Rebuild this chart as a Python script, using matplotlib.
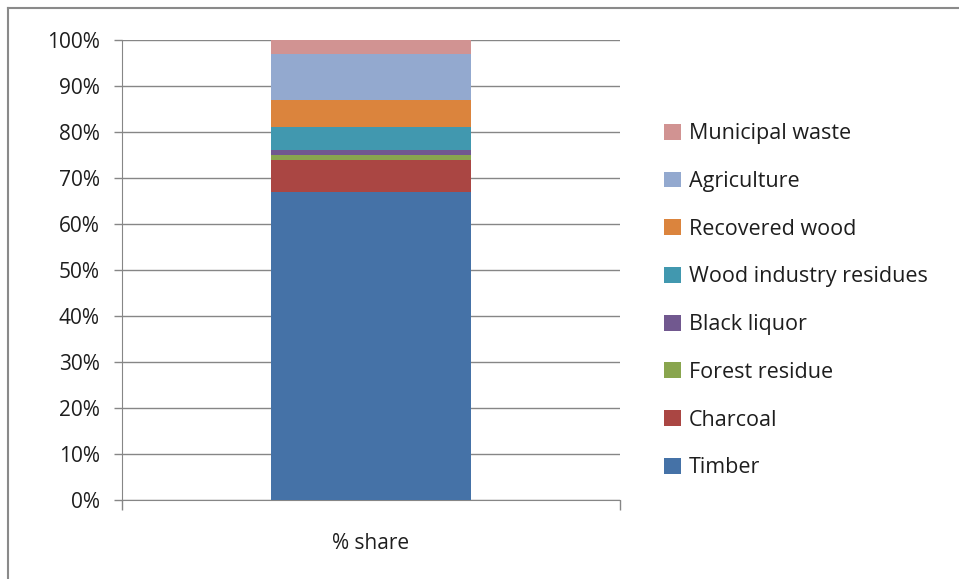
import matplotlib.pyplot as plt
from matplotlib.patches import Patch
from matplotlib.lines import Line2D

# biomass sources, % share (bottom of the stack first)
sources = ['Timber', 'Charcoal', 'Forest residue', 'Black liquor',
           'Wood industry residues', 'Recovered wood', 'Agriculture',
           'Municipal waste']
shares = [67, 7, 1, 1, 5, 6, 10, 3]
colors = ['#4572A7', '#AA4643', '#89A54E', '#71588F',
          '#4198AF', '#DB843D', '#93A9CF', '#D19392']
category = '% share'
yticks = [0, 10, 20, 30, 40, 50, 60, 70, 80, 90, 100]

plt.rcParams['font.family'] = ['Open Sans', 'DejaVu Sans']

fig = plt.figure(figsize=(9.59, 5.79), dpi=100)
ax = fig.add_axes([122 / 959, 79 / 579, 498 / 959, 460 / 579])

grey = '#868686'
txt = '#1e1e1e'

# stacked bar
bottom = 0
for name, val, col in zip(sources, shares, colors):
    ax.bar(0, val, width=0.4, bottom=bottom, color=col, label=name, zorder=3)
    bottom += val

ax.set_xlim(-0.5, 0.5)
ax.set_ylim(0, 100)
ax.set_yticks(yticks)
ax.set_yticklabels([f'{t}%' for t in yticks])
ax.yaxis.grid(True, color=grey, linewidth=1.0, zorder=0)

ax.set_xticks([0])
ax.set_xticklabels([category])
ax.set_xticks([-0.5, 0.5], minor=True)
ax.tick_params(axis='x', which='major', length=0, pad=24, labelsize=15,
               labelcolor=txt)
ax.tick_params(axis='x', which='minor', length=7, color=grey, width=1.0)
ax.tick_params(axis='y', length=6, color=grey, width=1.0, pad=10,
               labelsize=15, labelcolor=txt)

for side in ['top', 'right']:
    ax.spines[side].set_visible(False)
ax.spines['left'].set_color(grey)
ax.spines['bottom'].set_color(grey)

# legend, top entry is the top of the stack
handles = [Patch(facecolor=c, edgecolor='none') for c in colors][::-1]
fig.legend(handles, sources[::-1], loc='upper left',
           bbox_to_anchor=(645 / 959, 1 - 104 / 579), frameon=False,
           fontsize=15.5, handlelength=0.75, handleheight=0.75,
           handletextpad=0.4, labelspacing=1.24, labelcolor=txt)

# outer chart frame
fig.add_artist(Line2D([8 / 959, 8 / 959], [0, 1 - 8 / 579],
                      transform=fig.transFigure, color='#8a8a8a', lw=1.5))
fig.add_artist(Line2D([8 / 959, 1], [1 - 8 / 579, 1 - 8 / 579],
                      transform=fig.transFigure, color='#8a8a8a', lw=1.5))

fig.savefig('out.png', dpi=100)
